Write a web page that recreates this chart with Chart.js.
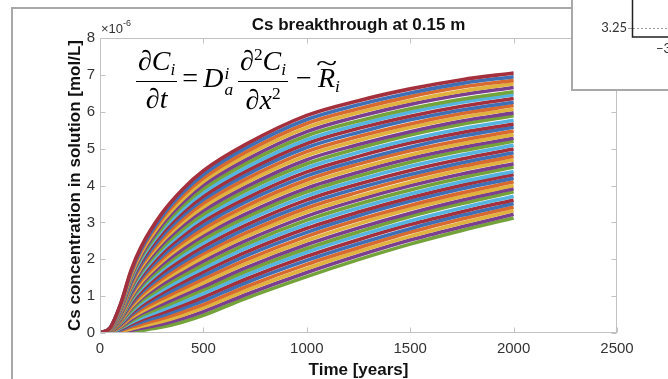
<!DOCTYPE html>
<html><head><meta charset="utf-8">
<script src="https://cdn.jsdelivr.net/npm/chart.js@4.4.0/dist/chart.umd.min.js"></script>
<style>
html,body{margin:0;padding:0;background:#fff;}
#wrap{position:relative;width:668px;height:379px;overflow:hidden;background:#fff;}
canvas{position:absolute;left:0;top:0;}
#eq{position:absolute;left:136px;top:45px;font-family:"Liberation Serif","DejaVu Serif",serif;font-size:28px;color:#000;line-height:1.1;white-space:nowrap;}
#eq i{font-style:italic;}
.frac{display:inline-flex;flex-direction:column;align-items:center;vertical-align:middle;}
.num{padding:0 2px 2px 2px;line-height:1.1;}
.den{border-top:1.5px solid #000;padding:2px 2px 0 2px;align-self:stretch;text-align:center;line-height:1.1;}
.sb{font-size:62%;font-style:italic;vertical-align:-0.3em;}
.sp{font-size:62%;vertical-align:0.55em;}
.ss{display:inline-flex;flex-direction:column;font-size:62%;font-style:italic;line-height:0.95;vertical-align:0.45em;margin:0 5px 0 1px;}
.op{margin:0 5px;}
.op2{margin:0 6px 0 8px;}
.rt{position:relative;display:inline-block;}
.tl{position:absolute;left:1px;top:-15px;font-style:normal;font-size:28px;transform:scaleX(1.4);}
</style></head><body>
<div id="wrap">
<canvas id="c" width="668" height="379"></canvas>
<div id="eq"><span class="frac"><span class="num"><i>∂C</i><span class="sb">i</span></span><span class="den"><i>∂t</i></span></span><span class="op">=</span><i>D</i><span class="ss"><span>i</span><span>a</span></span><span class="frac"><span class="num"><i>∂</i><span class="sp">2</span><i>C</i><span class="sb">i</span></span><span class="den"><i>∂x</i><span class="sp">2</span></span></span><span class="op2">−</span><span class="rt"><i>R</i><span class="tl">~</span></span><span class="sb">i</span></div>
</div>
<script>
// ---- data (concentration values in units of 1e-6 mol/L) ----
const SCALE = 1e-6;
const TITLE = 'Cs breakthrough at 0.15 m';
const X_TITLE = 'Time [years]';
const Y_TITLE = 'Cs concentration in solution [mol/L]';
const X_TICKS = [0, 500, 1000, 1500, 2000, 2500];
const Y_TICKS = [0, 1, 2, 3, 4, 5, 6, 7, 8];
const T_YEARS = [0, 50, 100, 150, 200, 300, 400, 500, 700, 1000, 1250, 1500, 1750, 2000];

const c00 = [0,0.15,0.80,1.70,2.35,3.25,3.90,4.40,5.10,5.90,6.30,6.62,6.87,7.05];
const c01 = [0,0.15,0.78,1.66,2.29,3.17,3.81,4.30,5.00,5.79,6.19,6.51,6.77,6.95];
const c02 = [0,0.14,0.76,1.62,2.24,3.10,3.72,4.20,4.89,5.68,6.08,6.41,6.67,6.85];
const c03 = [0,0.14,0.74,1.57,2.18,3.02,3.63,4.11,4.79,5.57,5.98,6.30,6.56,6.76];
const c04 = [0,0.14,0.72,1.53,2.12,2.94,3.54,4.01,4.68,5.46,5.87,6.20,6.46,6.66];
const c05 = [0,0.13,0.70,1.49,2.07,2.86,3.45,3.91,4.58,5.35,5.75,6.08,6.34,6.54];
const c06 = [0,0.13,0.68,1.45,2.01,2.79,3.36,3.81,4.47,5.24,5.65,5.99,6.26,6.46];
const c07 = [0,0.12,0.66,1.41,1.95,2.71,3.27,3.71,4.37,5.14,5.55,5.88,6.15,6.36];
const c08 = [0,0.12,0.64,1.37,1.89,2.63,3.18,3.62,4.27,5.03,5.44,5.78,6.05,6.26];
const c09 = [0,0.12,0.62,1.32,1.84,2.55,3.09,3.52,4.16,4.92,5.33,5.67,5.95,6.17];
const c10 = [0,0.11,0.60,1.28,1.78,2.48,3.00,3.42,4.06,4.81,5.22,5.57,5.85,6.07];
const c11 = [0,0.11,0.58,1.24,1.72,2.40,2.91,3.32,3.95,4.70,5.11,5.46,5.75,5.97];
const c12 = [0,0.10,0.56,1.20,1.67,2.32,2.82,3.22,3.85,4.59,5.01,5.37,5.66,5.89];
const c13 = [0,0.10,0.54,1.16,1.61,2.25,2.73,3.13,3.74,4.48,4.90,5.25,5.54,5.77];
const c14 = [0,0.10,0.52,1.12,1.55,2.17,2.64,3.03,3.64,4.37,4.79,5.15,5.44,5.67];
const c15 = [0,0.09,0.50,1.07,1.50,2.09,2.55,2.93,3.54,4.26,4.68,5.04,5.34,5.58];
const c16 = [0,0.09,0.48,1.03,1.44,2.01,2.46,2.83,3.43,4.15,4.58,4.94,5.23,5.48];
const c17 = [0,0.09,0.46,0.99,1.38,1.94,2.37,2.73,3.33,4.04,4.47,4.83,5.13,5.38];
const c18 = [0,0.08,0.44,0.95,1.32,1.86,2.28,2.64,3.22,3.93,4.36,4.73,5.03,5.28];
const c19 = [0,0.08,0.42,0.91,1.27,1.78,2.19,2.54,3.12,3.83,4.26,4.63,4.94,5.20];
const c20 = [0,0.08,0.41,0.87,1.21,1.71,2.10,2.44,3.02,3.72,4.15,4.52,4.83,5.09];
const c21 = [0,0.07,0.39,0.82,1.15,1.63,2.01,2.34,2.91,3.61,4.04,4.41,4.72,4.99];
const c22 = [0,0.07,0.37,0.78,1.10,1.55,1.92,2.24,2.81,3.50,3.93,4.30,4.62,4.89];
const c23 = [0,0.06,0.35,0.74,1.04,1.47,1.83,2.15,2.70,3.39,3.82,4.20,4.52,4.79];
const c24 = [0,0.06,0.33,0.70,0.98,1.40,1.74,2.05,2.60,3.28,3.71,4.09,4.42,4.69];
const c25 = [0,0.06,0.31,0.66,0.93,1.32,1.65,1.95,2.49,3.17,3.61,3.99,4.31,4.59];
const c26 = [0,0.05,0.29,0.61,0.87,1.24,1.56,1.85,2.39,3.06,3.50,3.88,4.21,4.50];
const c27 = [0,0.05,0.27,0.57,0.81,1.16,1.47,1.75,2.29,2.95,3.39,3.77,4.10,4.38];
const c28 = [0,0.04,0.25,0.53,0.75,1.09,1.38,1.66,2.18,2.84,3.28,3.67,4.01,4.30];
const c29 = [0,0.04,0.23,0.49,0.70,1.01,1.29,1.56,2.08,2.73,3.18,3.57,3.91,4.20];
const c30 = [0,0.04,0.21,0.45,0.64,0.93,1.20,1.46,1.97,2.62,3.07,3.46,3.80,4.10];
const c31 = [0,0.03,0.19,0.41,0.58,0.86,1.11,1.36,1.87,2.51,2.96,3.36,3.70,4.00];
const c32 = [0,0.03,0.17,0.36,0.53,0.78,1.02,1.26,1.76,2.40,2.85,3.25,3.60,3.91];
const c33 = [0,0.03,0.15,0.32,0.47,0.70,0.93,1.17,1.66,2.29,2.74,3.16,3.51,3.83];
const c34 = [0,0.02,0.13,0.28,0.41,0.62,0.84,1.07,1.56,2.19,2.64,3.04,3.39,3.71];
const c35 = [0,0.02,0.11,0.24,0.36,0.55,0.75,0.97,1.45,2.08,2.53,2.94,3.29,3.61];
const c36 = [0,0.02,0.09,0.20,0.30,0.47,0.66,0.87,1.35,1.97,2.42,2.83,3.19,3.51];
const c37 = [0,0.01,0.07,0.16,0.24,0.39,0.57,0.77,1.24,1.86,2.31,2.73,3.09,3.42];
const c38 = [0,0.01,0.05,0.11,0.18,0.31,0.48,0.68,1.14,1.75,2.21,2.62,2.98,3.32];
const c39 = [0,0.00,0.03,0.07,0.13,0.24,0.39,0.58,1.03,1.64,2.10,2.52,2.88,3.22];
const c40 = [0,0.00,0.01,0.03,0.07,0.16,0.30,0.48,0.93,1.53,1.99,2.41,2.78,3.12];
const CURVES = [c00,c01,c02,c03,c04,c05,c06,c07,c08,c09,c10,c11,c12,c13,c14,c15,c16,c17,c18,c19,c20,
  c21,c22,c23,c24,c25,c26,c27,c28,c29,c30,c31,c32,c33,c34,c35,c36,c37,c38,c39,c40];

// ---- styling ----
const PALETTE = ['#3f6fb5','#d8692f','#dfb33d','#7b3f8f','#74a33a','#55b5e0','#a3303c'];
const FONT = '"Liberation Sans", Arial, sans-serif';

const datasets = CURVES.map((c, i) => ({
  data: T_YEARS.map((t, j) => ({x: t, y: c[j] * SCALE})),
  borderColor: PALETTE[(i + 6) % PALETTE.length],
  borderWidth: 3.6,
  pointRadius: 0,
  fill: false,
  cubicInterpolationMode: 'monotone'
}));

const decor = {
  id: 'decor',
  afterDatasetsDraw(chart) {
    const {ctx, chartArea: a, scales: {x, y}} = chart;
    ctx.save();
    ctx.strokeStyle = '#c2c2c2';
    ctx.lineWidth = 1;
    const L = Math.round(a.left) + 0.5, T = Math.round(a.top) + 0.5, R = Math.round(a.right) - 0.5, B = Math.round(a.bottom) - 0.5;
    ctx.strokeRect(L, T, R - L, B - T);
    ctx.beginPath();
    x.ticks.forEach(t => {
      const p = Math.round(x.getPixelForValue(t.value)) + 0.5;
      ctx.moveTo(p, B); ctx.lineTo(p, B - 5);
      ctx.moveTo(p, T); ctx.lineTo(p, T + 5);
    });
    y.ticks.forEach(t => {
      const p = Math.round(y.getPixelForValue(t.value)) + 0.5;
      ctx.moveTo(L, p); ctx.lineTo(L + 5, p);
      ctx.moveTo(R, p); ctx.lineTo(R - 5, p);
    });
    ctx.stroke();
    // exponent multiplier
    ctx.fillStyle = '#333';
    ctx.textAlign = 'left';
    ctx.textBaseline = 'alphabetic';
    ctx.font = '13px ' + FONT;
    ctx.fillText('×10', a.left + 1, a.top - 5);
    const w = ctx.measureText('×10').width;
    ctx.font = '9px ' + FONT;
    ctx.fillText('-6', a.left + 1 + w, a.top - 12);
    ctx.restore();
  },
  afterDraw(chart) {
    const ctx = chart.ctx;
    ctx.save();
    // inset image corner (top right)
    ctx.fillStyle = '#fff';
    ctx.fillRect(572, 0, 96, 90);
    ctx.strokeStyle = '#a8a8a8';
    ctx.lineWidth = 2;
    ctx.beginPath();
    ctx.moveTo(12, 379); ctx.lineTo(12, 8); ctx.lineTo(572, 8);
    ctx.moveTo(572, 0); ctx.lineTo(572, 90); ctx.lineTo(668, 90);
    ctx.stroke();
    ctx.strokeStyle = '#9a9a9a';
    ctx.lineWidth = 1;
    ctx.setLineDash([2, 2]);
    ctx.beginPath(); ctx.moveTo(633, 28.5); ctx.lineTo(668, 28.5); ctx.stroke();
    ctx.setLineDash([]);
    ctx.beginPath(); ctx.moveTo(628, 28.5); ctx.lineTo(633, 28.5); ctx.stroke();
    ctx.strokeStyle = '#222';
    ctx.lineWidth = 1.5;
    ctx.beginPath(); ctx.moveTo(632.5, 0); ctx.lineTo(632.5, 37); ctx.lineTo(668, 37); ctx.stroke();
    ctx.fillStyle = '#333';
    ctx.font = '13px Lato, ' + FONT;
    ctx.textAlign = 'right'; ctx.textBaseline = 'middle';
    ctx.fillText('3.25', 627, 28);
    ctx.textAlign = 'left';
    ctx.fillText('−3', 656, 49);
    ctx.restore();
  }
};

new Chart(document.getElementById('c'), {
  type: 'line',
  data: {datasets},
  options: {
    responsive: false,
    animation: false,
    devicePixelRatio: 1,
    layout: {padding: {left: 0, right: 51, top: 8, bottom: 0}},
    plugins: {
      legend: {display: false},
      tooltip: {enabled: false},
      title: {display: true, text: TITLE, fullSize: false, color: '#111',
        font: {family: FONT, size: 17, weight: 'bold'}, padding: {top: 7, bottom: 2.6}}
    },
    scales: {
      x: {
        type: 'linear', min: X_TICKS[0], max: X_TICKS[X_TICKS.length - 1],
        grid: {display: false, drawTicks: false}, border: {display: false},
        afterBuildTicks: s => { s.ticks = X_TICKS.map(v => ({value: v})); },
        ticks: {padding: 7, color: '#333', font: {family: FONT, size: 15}, maxRotation: 0, autoSkip: false,
          callback: v => String(v)},
        title: {display: true, text: X_TITLE, color: '#111', font: {family: FONT, size: 17, weight: 'bold', lineHeight: 1}, padding: {top: 0, bottom: 0}},
        afterFit: s => { s.height = 46; }
      },
      y: {
        type: 'linear', min: Y_TICKS[0] * SCALE, max: Y_TICKS[Y_TICKS.length - 1] * SCALE,
        grid: {display: false, drawTicks: false}, border: {display: false},
        afterBuildTicks: s => { s.ticks = Y_TICKS.map(v => ({value: v * SCALE})); },
        ticks: {padding: 5, color: '#333', font: {family: FONT, size: 15}, autoSkip: false,
          callback: v => String(Math.round(v / SCALE))},
        title: {display: true, text: Y_TITLE, color: '#111', font: {family: FONT, size: 17, weight: 'bold'}, padding: {top: 65, bottom: 0}},
        afterFit: s => { s.width = 100; }
      }
    }
  },
  plugins: [decor]
});
</script>
</body></html>
